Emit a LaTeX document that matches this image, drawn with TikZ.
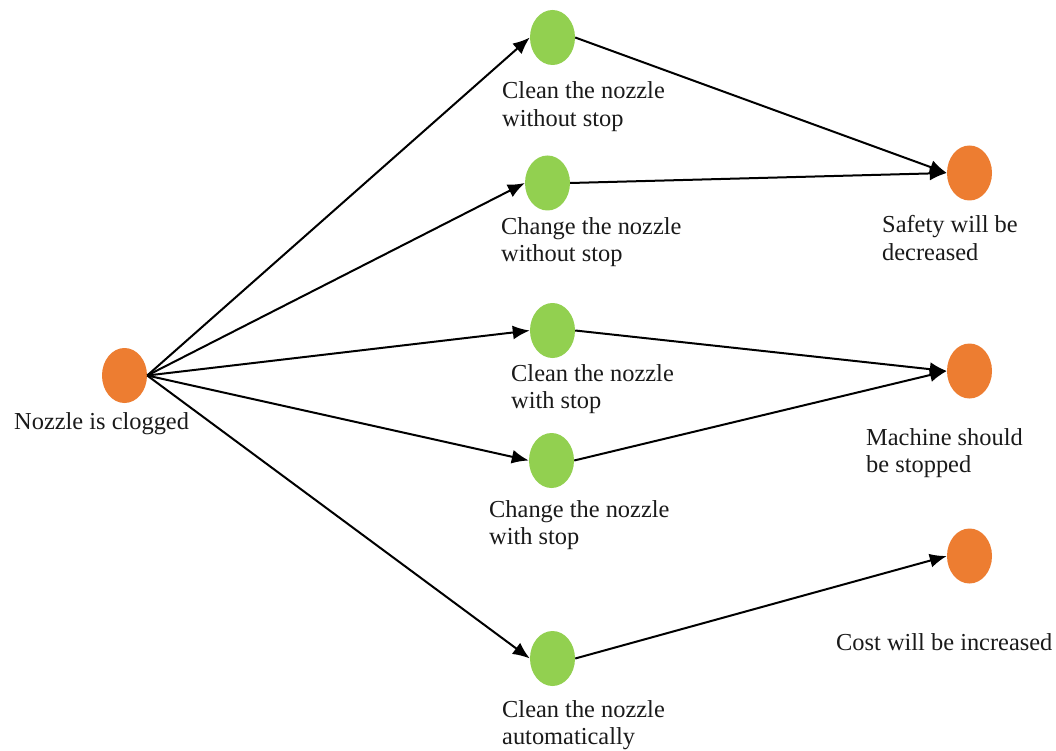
\documentclass[tikz,border=0pt]{standalone}
\usepackage{fontspec}
\setmainfont{Liberation Serif}
\usetikzlibrary{shapes.geometric,arrows.meta}
\definecolor{leafgreen}{HTML}{92D050}
\definecolor{warmorange}{HTML}{ED7D31}
\definecolor{txt}{HTML}{1A1A1A}
\tikzset{
  evgreen/.style={ellipse,fill=leafgreen,minimum width=45pt,minimum height=55pt,inner sep=0pt},
  evorange/.style={ellipse,fill=warmorange,minimum width=45pt,minimum height=55pt,inner sep=0pt},
  lbl/.style={anchor=base west,inner sep=0pt,text=txt,font=\fontsize{24.4}{27.5}\selectfont},
  conn/.style={line width=2pt,-{Latex[length=17pt,width=14pt]}}
}
\begin{document}
\begin{tikzpicture}[x=1pt,y=-1pt]
\useasboundingbox[fill=white] (0,0) rectangle (1056,751);
\node[evorange] (src) at (124.5,375.5) {};
\node[evgreen] (g1) at (552.5,37.5) {};
\node[evgreen] (g2) at (547.5,183) {};
\node[evgreen] (g3) at (552.5,330.5) {};
\node[evgreen] (g4) at (551.5,460.5) {};
\node[evgreen] (g5) at (552.5,658.5) {};
\node[evorange] (o1) at (969.5,173) {};
\node[evorange] (o2) at (969.5,371) {};
\node[evorange] (o3) at (969.5,556) {};

\node[lbl] (lsrc) at (14,429) {Nozzle is clogged};
\node[lbl] (l1) at (502,99) {\begin{tabular}[t]{@{}l@{}}Clean the nozzle\\without stop\end{tabular}};
\node[lbl] (l2) at (501,234) {\begin{tabular}[t]{@{}l@{}}Change the nozzle\\without stop\end{tabular}};
\node[lbl] (l3) at (511,381) {\begin{tabular}[t]{@{}l@{}}Clean the nozzle\\with stop\end{tabular}};
\node[lbl] (l4) at (489,517) {\begin{tabular}[t]{@{}l@{}}Change the nozzle\\with stop\end{tabular}};
\node[lbl] (l5) at (502,717) {\begin{tabular}[t]{@{}l@{}}Clean the nozzle\\automatically\end{tabular}};
\node[lbl] (lo1) at (882,233) {\begin{tabular}[t]{@{}l@{}}Safety will be\\decreased\end{tabular}};
\node[lbl] (lo2) at (866,445) {\begin{tabular}[t]{@{}l@{}}Machine should\\be stopped\end{tabular}};
\node[lbl] (lo3) at (836,650) {Cost will be increased};

\foreach \g in {g1,g2,g3,g4,g5}
  \draw[conn] (src.east) -- (\g.west);
\draw[conn] (g1.east) -- (o1.west);
\draw[conn] (g2.east) -- (o1.west);
\draw[conn] (g3.east) -- (o2.west);
\draw[conn] (g4.east) -- (o2.west);
\draw[conn] (g5.east) -- (o3.west);
\end{tikzpicture}
\end{document}
